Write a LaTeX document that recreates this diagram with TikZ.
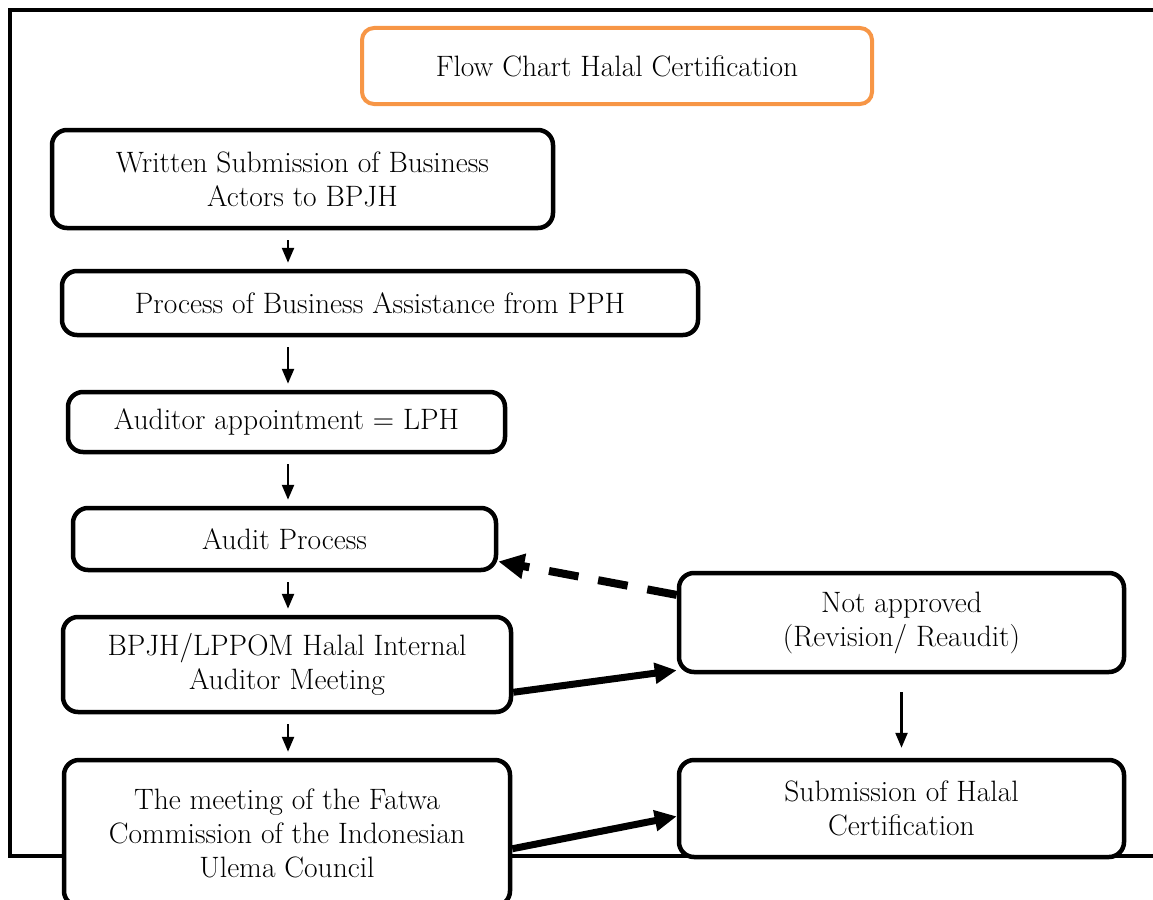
\documentclass[tikz,border=0pt]{standalone}
\usepackage{tikz}
\usetikzlibrary{arrows.meta}

\begin{document}
\begin{tikzpicture}[
  x=1pt, y=-1pt,
  >=Triangle,
  frame/.style={line width=4pt, black},
  stepbox/.style={draw, line width=4.5pt, rounded corners=15pt, fill=white,
    align=center, inner sep=0pt, font=\fontsize{29.5}{34}\selectfont},
  titlebox/.style={draw=orange!75!yellow!90!red, line width=4pt, rounded corners=12pt,
    fill=white, inner sep=0pt, font=\fontsize{29.5}{34}\selectfont},
  flow/.style={->, line width=2.4pt, shorten <=10pt, shorten >=6pt,
    -{Triangle[length=15pt,width=12pt]}},
  bold/.style={line width=7pt, -{Triangle[length=22pt,width=20pt]}},
  back/.style={line width=8pt, dash pattern=on 30pt off 20pt,
    -{Triangle[length=26pt,width=24pt]}}
]
  \useasboundingbox (0,0) rectangle (1153,899);
  \clip (0,0) rectangle (1153,899);

  \draw[frame] (1170,10) -- (10,10) -- (10,856) -- (1170,856);

  \definecolor{titleorange}{RGB}{247,150,70}
  \node[titlebox, draw=titleorange, minimum width=510pt, minimum height=76pt]
    (title) at (617,66) {Flow Chart Halal Certification};

  \node[stepbox, minimum width=501pt, minimum height=98pt] (submit) at (302.5,179)
    {Written Submission of Business\\Actors to BPJH};
  \node[stepbox, minimum width=636pt, minimum height=64pt] (assist) at (380,303)
    {Process of Business Assistance from PPH};
  \node[stepbox, minimum width=437pt, minimum height=60pt] (auditor) at (286.5,422)
    {Auditor appointment = LPH};
  \node[stepbox, minimum width=423pt, minimum height=62pt] (audit) at (284.5,539)
    {Audit Process};
  \node[stepbox, minimum width=448pt, minimum height=95pt] (internal) at (287,664.5)
    {BPJH/LPPOM Halal Internal\\Auditor Meeting};
  \node[stepbox, minimum width=446pt, minimum height=146pt] (fatwa) at (287,833)
    {The meeting of the Fatwa\\Commission of the Indonesian\\Ulema Council};

  \node[stepbox, minimum width=445pt, minimum height=99pt] (revise) at (901.5,622.5)
    {Not approved\\(Revision/ Reaudit)};
  \node[stepbox, minimum width=445pt, minimum height=97pt] (certify) at (901.5,808.5)
    {Submission of Halal\\Certification};

  \coordinate (spine) at (288,0);
  \foreach \a/\b in {submit/assist, assist/auditor, auditor/audit, audit/internal, internal/fatwa}
    \draw[flow] (\a.south -| spine) -- (\b.north -| spine);

  \draw[flow, shorten <=18pt, shorten >=10pt] (revise) -- (certify);
  \draw[back] (revise.173) -- (audit.354);
  \draw[bold] (internal.353.5) -- (revise.192);
  \draw[bold] (fatwa.356) -- (certify.182);
\end{tikzpicture}
\end{document}
